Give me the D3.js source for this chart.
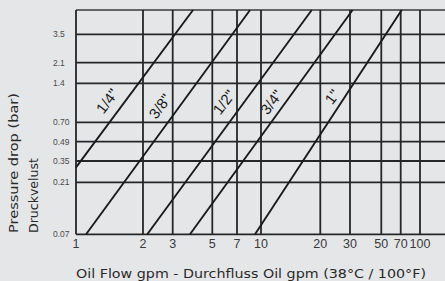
<!DOCTYPE html>
<html>
<head>
<meta charset="utf-8">
<script src="https://cdn.jsdelivr.net/npm/d3@7"></script>
<style>
  html, body { margin: 0; padding: 0; background: #e5e6e8; }
  svg { display: block; }
</style>
</head>
<body>
<div id="chart"></div>
<script>
// ---------- DATA ----------
const xTicks = [1, 2, 3, 5, 7, 10, 20, 30, 50, 70, 100];
const xTickLabels = ["1", "2", "3", "5", "7", "10", "20", "30", "50", "70", "100"];
const yTicks = [0.07, 0.21, 0.35, 0.49, 0.70, 1.4, 2.1, 3.5];
const yTickLabels = ["0.07", "0.21", "0.35", "0.49", "0.70", "1.4", "2.1", "3.5"];
const xMax = 150;   // right end of the chart frame
const yMax = 7;     // top end of the chart frame

const seriesNames = ['1/4"', '3/8"', '1/2"', '3/4"', '1"'];
// flow (gpm) endpoints of each pipe-size line
const seriesFlow = [
  [1.0, 3.9],
  [1.11, 8.5],
  [2.12, 18.1],
  [3.75, 31.3],
  [9.15, 71.3]
];
// matching pressure drop (bar) endpoints
const seriesPressure = [
  [0.30, 7],
  [0.07, 7],
  [0.07, 7],
  [0.07, 7],
  [0.07, 7]
];
// label anchors in data space (flow, pressure)
const labelFlow = [1.38, 2.52, 5.86, 11.3, 23.5];
const labelPressure = [1.02, 0.93, 1.0, 1.0, 1.1];

const xTitle = "Oil Flow gpm - Durchfluss Oil gpm (38°C / 100°F)";
const yTitle1 = "Pressure drop (bar)";
const yTitle2 = "Druckvelust";

// ---------- LAYOUT ----------
const W = 445, H = 281;
// printed grid is not a true log grid: piecewise log scale through the printed gridlines
const xGridPx = [76, 143, 172.7, 212.3, 237, 261, 320.3, 350, 381.3, 400.7, 420, 448];
const yGridPx = [234.3, 182.3, 161, 141.7, 122.3, 83.3, 62.7, 34.3, 10];

const xLin = d3.scaleLinear()
  .domain(xTicks.concat([xMax]).map(Math.log10))
  .range(xGridPx);
const yLin = d3.scaleLinear()
  .domain(yTicks.concat([yMax]).map(Math.log10))
  .range(yGridPx);
const x = v => xLin(Math.log10(v));
const y = v => yLin(Math.log10(v));

const svg = d3.select("#chart").append("svg")
  .attr("width", W).attr("height", H);

svg.append("rect").attr("width", W).attr("height", H).attr("fill", "#e5e6e8");

const x0 = x(1), x1 = x(xMax), y0 = y(yTicks[0]), y1 = y(yMax);

const gridColor = "#262626";
// horizontal gridlines
svg.append("g").selectAll("line").data(yTicks).join("line")
  .attr("x1", x0).attr("x2", x1)
  .attr("y1", d => y(d)).attr("y2", d => y(d))
  .attr("stroke", gridColor).attr("stroke-width", 1.8);
// top border
svg.append("line").attr("x1", x0).attr("x2", x1).attr("y1", y1).attr("y2", y1)
  .attr("stroke", "#3a3a3a").attr("stroke-width", 1.4);
// vertical gridlines
svg.append("g").selectAll("line").data(xTicks).join("line")
  .attr("x1", d => x(d)).attr("x2", d => x(d))
  .attr("y1", y0).attr("y2", y1)
  .attr("stroke", gridColor).attr("stroke-width", 1.8);

// y tick labels
svg.append("g").selectAll("text").data(yTicks).join("text")
  .attr("x", 53).attr("y", d => y(d)).attr("dy", "0.35em")
  .attr("font-family", "Liberation Sans, Arial, sans-serif")
  .attr("font-size", 8.5).attr("fill", "#4a4a4a")
  .text((d, i) => yTickLabels[i]);

// x tick labels
svg.append("g").selectAll("text").data(xTicks).join("text")
  .attr("x", d => x(d)).attr("y", 248)
  .attr("text-anchor", "middle")
  .attr("font-family", "Liberation Sans Narrow, Arial Narrow, Liberation Sans, sans-serif")
  .attr("font-size", 12.5).attr("fill", "#3a3a3a")
  .text((d, i) => xTickLabels[i]);

// series lines
const line = d3.line().x(d => x(d[0])).y(d => y(d[1]));
svg.append("g").selectAll("path").data(seriesNames).join("path")
  .attr("d", (d, i) => line(seriesFlow[i].map((f, j) => [f, seriesPressure[i][j]])))
  .attr("fill", "none").attr("stroke", "#1a1a1a").attr("stroke-width", 1.9);

// series labels
svg.append("g").selectAll("text").data(seriesNames).join("text")
  .attr("transform", (d, i) => `translate(${x(labelFlow[i])},${y(labelPressure[i])}) rotate(-53)`)
  .attr("text-anchor", "middle").attr("dy", "0.35em")
  .attr("font-family", "Liberation Sans Narrow, Arial Narrow, Liberation Sans, sans-serif")
  .attr("font-size", 15).attr("fill", "#1a1a1a")
  .text(d => d);

// axis titles
svg.append("text")
  .attr("x", 251).attr("y", 278).attr("text-anchor", "middle")
  .attr("font-family", "DejaVu Sans, sans-serif").attr("font-size", 12.5)
  .attr("fill", "#2a2a2a")
  .attr("textLength", 350).attr("lengthAdjust", "spacingAndGlyphs")
  .text(xTitle);

svg.append("text")
  .attr("transform", "translate(17.5,233) rotate(-90)")
  .attr("font-family", "DejaVu Sans, sans-serif").attr("font-size", 12)
  .attr("fill", "#2a2a2a")
  .attr("textLength", 140).attr("lengthAdjust", "spacingAndGlyphs")
  .text(yTitle1);

svg.append("text")
  .attr("transform", "translate(37.5,233) rotate(-90)")
  .attr("font-family", "DejaVu Sans, sans-serif").attr("font-size", 12)
  .attr("fill", "#2a2a2a")
  .attr("textLength", 75).attr("lengthAdjust", "spacingAndGlyphs")
  .text(yTitle2);
</script>
</body>
</html>
